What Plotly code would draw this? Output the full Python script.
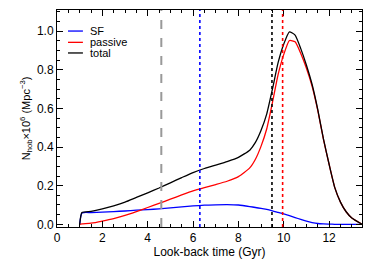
import plotly.graph_objects as go

# Look-back time grid (Gyr)
lookback = [1.0, 1.1, 1.5, 2.0, 2.5, 3.0, 3.5, 4.0, 4.5, 5.0, 5.5, 6.0, 6.5, 7.0, 7.5,
            8.0, 8.5, 8.75, 9.0, 9.25, 9.5, 9.75, 10.0, 10.25, 10.5, 10.75, 11.0, 11.25,
            11.5, 11.75, 12.0, 12.25, 12.5, 12.75, 13.0, 13.45]

sf = [0.0, 0.059, 0.061, 0.063, 0.066, 0.069, 0.073, 0.076, 0.080, 0.085, 0.090, 0.095,
      0.099, 0.101, 0.102, 0.100, 0.092, 0.087, 0.082, 0.077, 0.070, 0.062, 0.054, 0.045,
      0.035, 0.025, 0.016, 0.009, 0.004, 0.002, 0.001, 0.0, 0.0, 0.0, 0.0, 0.0]

passive = [0.0, 0.002, 0.006, 0.017, 0.030, 0.046, 0.066, 0.087, 0.108, 0.130, 0.152, 0.173,
           0.190, 0.206, 0.223, 0.247, 0.292, 0.337, 0.405, 0.495, 0.630, 0.775, 0.880,
           0.952, 0.945, 0.885, 0.808, 0.715, 0.590, 0.440, 0.310, 0.190, 0.115, 0.065,
           0.033, 0.0]

total = [a + b for a, b in zip(sf, passive)]

series_names = ["SF", "passive", "total"]
series_colors = ["#0000ff", "#ff0000", "#000000"]

# Vertical reference lines (Gyr)
vline_x = [4.6, 6.3, 9.48, 9.95]
vline_colors = ["#999999", "#0000ff", "#000000", "#ff0000"]
vline_dash = ["dash", "dot", "dot", "dot"]

fig = go.Figure()
for name, col, ys in zip(series_names, series_colors, [sf, passive, total]):
    fig.add_trace(go.Scatter(x=lookback, y=ys, mode="lines", name=name, showlegend=False,
                             line=dict(color=col, width=1.3, shape="spline", smoothing=0.5)))

for xv, col, dash in zip(vline_x, vline_colors, vline_dash):
    fig.add_shape(type="line", x0=xv, x1=xv, xref="x", y0=0, y1=1, yref="paper",
                  line=dict(color=col, width=2 if dash == "dash" else 1.6, dash=dash))

font = "Liberation Sans, Arial, sans-serif"

# Compact legend (IDL style): short line samples with labels
leg_x0, leg_x1, leg_tx = 0.036, 0.085, 0.100
leg_y = [0.903, 0.851, 0.802]
for name, col, yy in zip(series_names, series_colors, leg_y):
    fig.add_shape(type="line", xref="paper", yref="paper", x0=leg_x0, x1=leg_x1, y0=yy, y1=yy,
                  line=dict(color=col, width=1.3))
    fig.add_annotation(xref="paper", yref="paper", x=leg_tx, y=yy, text=name, showarrow=False,
                       xanchor="left", yanchor="middle",
                       font=dict(family=font, size=11, color="black"))

axis_common = dict(showline=True, linecolor="black", linewidth=1, mirror="allticks",
                   ticks="inside", tickcolor="black", ticklen=6, tickwidth=1,
                   showgrid=False, zeroline=False, automargin=False,
                   tickfont=dict(family=font, size=12, color="black"))

# the page body has an 8px default margin, so the figure is sized to fit inside the window
fig.update_layout(
    width=358, height=251,
    margin=dict(l=49, r=4, t=2, b=32, autoexpand=False),
    paper_bgcolor="white", plot_bgcolor="white",
    showlegend=False,
    xaxis=dict(range=[0, 13.45], dtick=2, tick0=0,
               minor=dict(dtick=0.5, ticks="inside", ticklen=3, tickcolor="black"),
               title=dict(text="Look-back time (Gyr)", font=dict(family=font, size=12, color="black"),
                          standoff=2),
               **axis_common),
    yaxis=dict(range=[-0.014, 1.11], dtick=0.2, tick0=0, tickformat=".1f",
               minor=dict(dtick=0.05, ticks="inside", ticklen=3, tickcolor="black"),
               title=dict(text="N<sub>hob</sub>×10<sup>6</sup> (Mpc<sup>−3</sup>)",
                          font=dict(family=font, size=11, color="black"), standoff=4),
               **axis_common),
)

fig.write_html("out.html")
